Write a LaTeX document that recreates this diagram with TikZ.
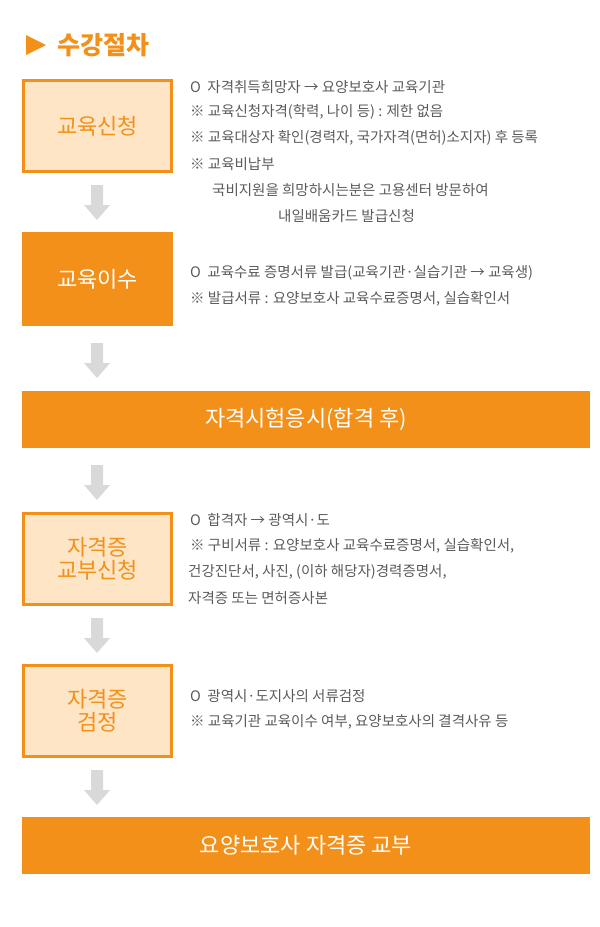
\documentclass[tikz,border=0pt]{standalone}
\usepackage{fontspec}
\setmainfont{Noto Sans CJK KR}
\newfontfamily\kr{Noto Sans CJK KR}
\newfontfamily\krb{Noto Sans CJK KR}[BoldFont={* Bold}]
\definecolor{org}{HTML}{F39019}
\definecolor{lite}{HTML}{FDE5C6}
\definecolor{txt}{HTML}{5A5A5A}
\definecolor{arr}{HTML}{D9D9D9}
\begin{document}
\begin{tikzpicture}[x=1pt,y=-1pt,
  litebox/.style={draw=org,line width=3pt,fill=lite,minimum width=148pt,minimum height=91pt,text=org,font=\fontsize{22}{27}\selectfont,align=center},
  fullbox/.style={fill=org,minimum width=151pt,minimum height=94pt,text=white,font=\fontsize{22}{27}\selectfont,align=center},
  bar/.style={fill=org,minimum width=568pt,minimum height=57pt,text=white,font=\fontsize{22}{27}\selectfont},
  desc/.style={anchor=west,text=txt,font=\fontsize{14.5}{17}\selectfont,inner sep=0pt},
  garrow/.style={fill=arr}]
\useasboundingbox (0,0) rectangle (600,927);
\fill[org] (26,35) -- (46,45) -- (26,55) -- cycle;
\node[anchor=west,text=org,font=\fontsize{25}{30}\selectfont\bfseries,inner sep=0pt] (title) at (57,45) {수강절차};
\node[litebox] (b1) at (97.5,126) {교육신청};
\node[fullbox] (b2) at (97.5,279) {교육이수};
\node[bar] (b3) at (306,419.5) {자격시험응시(합격 후)};
\node[litebox] (b4) at (97.5,559) {자격증\\[-4pt]교부신청};
\node[litebox] (b5) at (97.5,711) {자격증\\[-4pt]검정};
\node[bar] (b6) at (306,845.5) {요양보호사 자격증 교부};
\foreach \y in {185,343,465,618,770}{
  \fill[garrow] (91,\y) -- (103,\y) -- (103,\y+20) -- (110,\y+20) -- (97,\y+35) -- (84,\y+20) -- (91,\y+20) -- cycle;
}
\node[desc] (t11) at (190,87) {O\ \ 자격취득희망자 → 요양보호사 교육기관};
\node[desc] (t12) at (190,112) {※\ 교육신청자격(학력, 나이 등) : 제한 없음};
\node[desc] (t13) at (190,138) {※\ 교육대상자 확인(경력자, 국가자격(면허)소지자) 후 등록};
\node[desc] (t14) at (190,164) {※\ 교육비납부};
\node[desc] (t15) at (212,190) {국비지원을 희망하시는분은 고용센터 방문하여};
\node[desc] (t16) at (278,216) {내일배움카드 발급신청};
\node[desc] (t21) at (190,273) {O\ \ 교육수료 증명서류 발급(교육기관·실습기관 → 교육생)};
\node[desc] (t22) at (190,299) {※\ 발급서류 : 요양보호사 교육수료증명서, 실습확인서};
\node[desc] (t41) at (190,520) {O\ \ 합격자 → 광역시·도};
\node[desc] (t42) at (190,546) {※\ 구비서류 : 요양보호사 교육수료증명서, 실습확인서,};
\node[desc] (t43) at (188,572) {건강진단서, 사진, (이하 해당자)경력증명서,};
\node[desc] (t44) at (188,598) {자격증 또는 면허증사본};
\node[desc] (t51) at (190,696) {O\ \ 광역시·도지사의 서류검정};
\node[desc] (t52) at (190,722) {※\ 교육기관 교육이수 여부, 요양보호사의 결격사유 등};
\end{tikzpicture}
\end{document}
